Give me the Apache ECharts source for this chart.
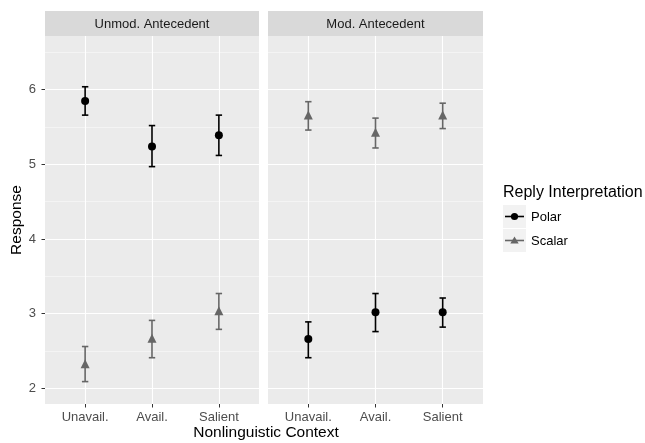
<!DOCTYPE html>
<html><head><meta charset="utf-8">
<script src="https://cdn.jsdelivr.net/npm/echarts@6/dist/echarts.min.js"></script>
<style>html,body{margin:0;padding:0;background:#fff}#c{width:645px;height:443px}</style>
</head><body><div id="c"></div>
<script>
const categories = ['Unavail.', 'Avail.', 'Salient'];
const panels = ['Unmod. Antecedent', 'Mod. Antecedent'];
const seriesNames = ['Polar', 'Scalar'];
// panel 0: Unmod. Antecedent
const unmodPolarMean = [5.85, 5.24, 5.39];
const unmodPolarLo   = [5.66, 4.97, 5.12];
const unmodPolarHi   = [6.04, 5.52, 5.66];
const unmodScalarMean = [2.33, 2.67, 3.04];
const unmodScalarLo   = [2.09, 2.41, 2.79];
const unmodScalarHi   = [2.56, 2.91, 3.27];
// panel 1: Mod. Antecedent
const modPolarMean = [2.66, 3.02, 3.02];
const modPolarLo   = [2.41, 2.76, 2.82];
const modPolarHi   = [2.89, 3.27, 3.21];
const modScalarMean = [5.66, 5.43, 5.66];
const modScalarLo   = [5.46, 5.22, 5.48];
const modScalarHi   = [5.84, 5.62, 5.82];
const yTicks = [2, 3, 4, 5, 6];
const yMinor = [2.5, 3.5, 4.5, 5.5, 6.5];
const yMin = 1.79, yMax = 6.72;

const FONT = 'Liberation Sans, Arial, Helvetica, sans-serif';
const colPolar = '#000000', colScalar = '#666666';
const chart = echarts.init(document.getElementById('c'), null, {renderer: 'canvas'});

const grids = [
  {left: 45, top: 36, width: 214, height: 368},
  {left: 268, top: 36, width: 215, height: 368}
];
const xPos = categories.map((c, i) => i + 1);

function xAxisDef(gi) {
  return {
    gridIndex: gi, type: 'value', min: 0.4, max: 3.6,
    axisLine: {show: false},
    splitLine: {show: false},
    axisTick: {show: true, customValues: xPos, length: 3.5, lineStyle: {color: '#333', width: 1}},
    axisLabel: {customValues: xPos, formatter: v => categories[Math.round(v) - 1] || '',
      color: '#4d4d4d', fontSize: 13, fontFamily: FONT, margin: 7}
  };
}
function yAxisDef(gi) {
  return {
    gridIndex: gi, type: 'value', min: yMin, max: yMax,
    axisLine: {show: false},
    splitLine: {show: false},
    axisTick: {show: gi === 0, customValues: yTicks, length: 3.5, lineStyle: {color: '#333', width: 1}},
    axisLabel: {show: gi === 0, customValues: yTicks, color: '#4d4d4d', fontSize: 13, fontFamily: FONT, margin: 9}
  };
}

function errSeries(gi, lo, hi, color, name) {
  return {
    type: 'custom', name: name, xAxisIndex: gi, yAxisIndex: gi, z: 5,
    data: xPos.map((x, i) => [x, lo[i], hi[i]]),
    encode: {x: 0, y: [1, 2]},
    renderItem: function (params, api) {
      const a = api.coord([api.value(0), api.value(1)]);
      const b = api.coord([api.value(0), api.value(2)]);
      const hw = 3.2;
      const st = {stroke: color, lineWidth: 1.6};
      return {type: 'group', children: [
        {type: 'line', shape: {x1: a[0], y1: a[1], x2: b[0], y2: b[1]}, style: st},
        {type: 'line', shape: {x1: a[0] - hw, y1: a[1], x2: a[0] + hw, y2: a[1]}, style: st},
        {type: 'line', shape: {x1: b[0] - hw, y1: b[1], x2: b[0] + hw, y2: b[1]}, style: st}
      ]};
    }
  };
}
function ptSeries(gi, mean, color, symbol, size, name) {
  return {
    type: 'scatter', name: name, xAxisIndex: gi, yAxisIndex: gi, z: 6,
    symbol: symbol, symbolSize: size,
    itemStyle: {color: color, opacity: 1},
    data: xPos.map((x, i) => [x, mean[i]]),
    silent: true
  };
}
function gridLineSeries(gi) {
  const major = yTicks.map(v => ({yAxis: v, lineStyle: {color: '#ffffff', width: 1.1}}));
  const minor = yMinor.map(v => ({yAxis: v, lineStyle: {color: '#f6f6f6', width: 0.8}}));
  const vert = xPos.map(v => ({xAxis: v, lineStyle: {color: '#ffffff', width: 1.1}}));
  return {
    type: 'scatter', xAxisIndex: gi, yAxisIndex: gi, data: [], z: 1, silent: true,
    markLine: {silent: true, symbol: 'none', label: {show: false}, animation: false,
      lineStyle: {type: 'solid'}, emphasis: {disabled: true},
      data: minor.concat(major, vert)}
  };
}

const series = [
  gridLineSeries(0), gridLineSeries(1),
  errSeries(0, unmodPolarLo, unmodPolarHi, colPolar, 'Polar'),
  errSeries(0, unmodScalarLo, unmodScalarHi, colScalar, 'Scalar'),
  errSeries(1, modPolarLo, modPolarHi, colPolar, 'Polar'),
  errSeries(1, modScalarLo, modScalarHi, colScalar, 'Scalar'),
  ptSeries(0, unmodPolarMean, colPolar, 'circle', 8, 'Polar'),
  ptSeries(0, unmodScalarMean, colScalar, 'triangle', 9, 'Scalar'),
  ptSeries(1, modPolarMean, colPolar, 'circle', 8, 'Polar'),
  ptSeries(1, modScalarMean, colScalar, 'triangle', 9, 'Scalar')
];

const graphic = [];
grids.forEach((g, i) => {
  graphic.push({type: 'rect', left: g.left, top: 11, shape: {width: g.width, height: 25}, style: {fill: '#d9d9d9'}, z: 0});
  graphic.push({type: 'text', x: g.left + g.width / 2, y: 24,
    style: {text: panels[i], fill: '#1a1a1a', font: '13px ' + FONT, align: 'center', verticalAlign: 'middle'}});
});
graphic.push({type: 'text', x: 17, y: 220, rotation: Math.PI / 2,
  style: {text: 'Response', fill: '#000', font: '15.5px ' + FONT, align: 'center', verticalAlign: 'middle'}});
graphic.push({type: 'text', x: 266, y: 433,
  style: {text: 'Nonlinguistic Context', fill: '#000', font: '15.5px ' + FONT, align: 'center', verticalAlign: 'middle'}});
// legend
graphic.push({type: 'text', x: 503, y: 193,
  style: {text: 'Reply Interpretation', fill: '#000', font: '16px ' + FONT, align: 'left', verticalAlign: 'middle'}});
const keyCols = [colPolar, colScalar];
seriesNames.forEach((n, i) => {
  const ky = 205 + i * 24;
  graphic.push({type: 'rect', x: 503, y: ky, shape: {width: 23, height: 23}, style: {fill: '#f2f2f2'}});
  graphic.push({type: 'line', shape: {x1: 505, y1: ky + 11.5, x2: 524, y2: ky + 11.5}, style: {stroke: keyCols[i], lineWidth: 1.6}});
  if (i === 0) {
    graphic.push({type: 'circle', shape: {cx: 514.5, cy: ky + 11.5, r: 3.6}, style: {fill: keyCols[i]}});
  } else {
    graphic.push({type: 'polygon', shape: {points: [[514.5, ky + 7.5], [518.7, ky + 14.5], [510.3, ky + 14.5]]}, style: {fill: keyCols[i]}});
  }
  graphic.push({type: 'text', x: 531, y: ky + 12,
    style: {text: n, fill: '#000', font: '13px ' + FONT, align: 'left', verticalAlign: 'middle'}});
});

chart.setOption({
  animation: false,
  backgroundColor: '#ffffff',
  textStyle: {fontFamily: FONT},
  grid: grids.map(g => Object.assign({show: true, backgroundColor: '#ebebeb', borderWidth: 0}, g)),
  xAxis: [xAxisDef(0), xAxisDef(1)],
  yAxis: [yAxisDef(0), yAxisDef(1)],
  series: series,
  graphic: graphic
});
</script></body></html>
